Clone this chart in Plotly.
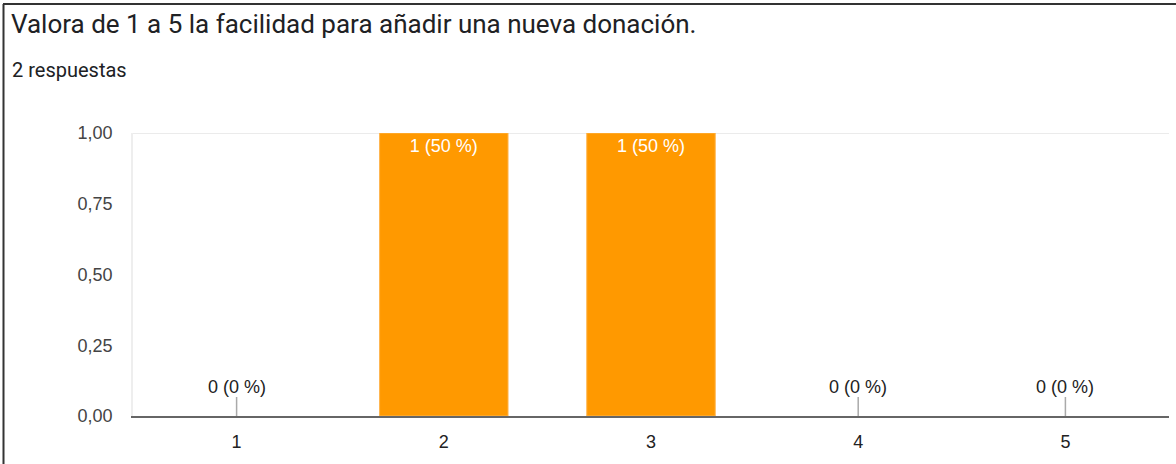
import plotly.graph_objects as go

# Survey results
categories = ["1", "2", "3", "4", "5"]
counts = [0, 1, 1, 0, 0]
total_responses = 2
y_ticks = [0, 0.25, 0.5, 0.75, 1.0]

W, H = 1176, 464
L, R, T, B = 133, 7, 133, 48
PW, PH = W - L - R, H - T - B

LABEL_FONT = "Liberation Sans, Arial, sans-serif"


def px_x(p):
    return (p - L) / PW


def px_y(p):
    return 1 - (p - T) / PH


labels = [f"{c} ({round(100 * c / total_responses)} %)" for c in counts]
bar_text = [lab if c > 0 else "" for lab, c in zip(labels, counts)]

fig = go.Figure()
fig.add_trace(go.Bar(
    x=categories,
    y=counts,
    width=0.62,
    marker=dict(color="#ff9900",
                line=dict(color="#ffb54d", width=[1 if c > 0 else 0 for c in counts])),
    text=bar_text,
    textposition="inside",
    insidetextanchor="end",
    textfont=dict(family=LABEL_FONT, size=18, color="white"),
    hoverinfo="skip",
))

annotations = []
shapes = []
for i, (c, lab) in enumerate(zip(counts, labels)):
    if c == 0:
        # small stem marking an empty category, with its label above
        shapes.append(dict(
            type="line", xref="x", yref="y", x0=i, x1=i,
            ysizemode="pixel", yanchor=0, y0=0, y1=19,
            line=dict(color="#aaaaaa", width=1.5),
        ))
        annotations.append(dict(
            x=i, y=0, xref="x", yref="y", text=lab, showarrow=False,
            yanchor="bottom", yshift=17,
            font=dict(family=LABEL_FONT, size=18, color="#222222"),
        ))

# top gridline
shapes.append(dict(type="line", xref="paper", yref="y", x0=0, x1=1, y0=1, y1=1,
                   line=dict(color="#ebebeb", width=2), layer="below"))
# frame border (top and left)
shapes.append(dict(type="line", xref="paper", yref="paper",
                   x0=px_x(3), x1=px_x(W + 5), y0=px_y(4), y1=px_y(4),
                   line=dict(color="#333333", width=2)))
shapes.append(dict(type="line", xref="paper", yref="paper",
                   x0=px_x(3.5), x1=px_x(3.5), y0=px_y(4), y1=px_y(H + 5),
                   line=dict(color="#333333", width=2)))

annotations.append(dict(
    x=px_x(9), y=px_y(24), xref="paper", yref="paper", xanchor="left", yanchor="middle",
    text="Valora de 1 a 5 la facilidad para añadir una nueva donación.", showarrow=False,
    font=dict(family="Roboto, sans-serif", size=26, color="#202124"),
))
annotations.append(dict(
    x=px_x(10), y=px_y(70), xref="paper", yref="paper", xanchor="left", yanchor="middle",
    text=f"{total_responses} respuestas", showarrow=False,
    font=dict(family="Roboto, sans-serif", size=20, color="#202124"),
))

fig.update_layout(
    width=W, height=H,
    margin=dict(l=L, r=R, t=T, b=B, pad=0),
    paper_bgcolor="white", plot_bgcolor="white",
    separators=",.",
    showlegend=False,
    shapes=shapes,
    annotations=annotations,
    xaxis=dict(
        type="category", range=[-0.5, 4.5],
        showline=True, linecolor="#666666", linewidth=2,
        showgrid=False, zeroline=False, ticks="", ticklabelstandoff=8,
        tickfont=dict(family=LABEL_FONT, size=18, color="#222222"),
    ),
    yaxis=dict(
        range=[0, 1], tickvals=y_ticks, tickformat=".2f",
        showgrid=False, zeroline=False,
        showline=True, linecolor="#eeeeee", linewidth=1.5,
        ticks="", ticklabelstandoff=15,
        tickfont=dict(family=LABEL_FONT, size=18, color="#444444"),
    ),
)

fig.write_html("out.html")
